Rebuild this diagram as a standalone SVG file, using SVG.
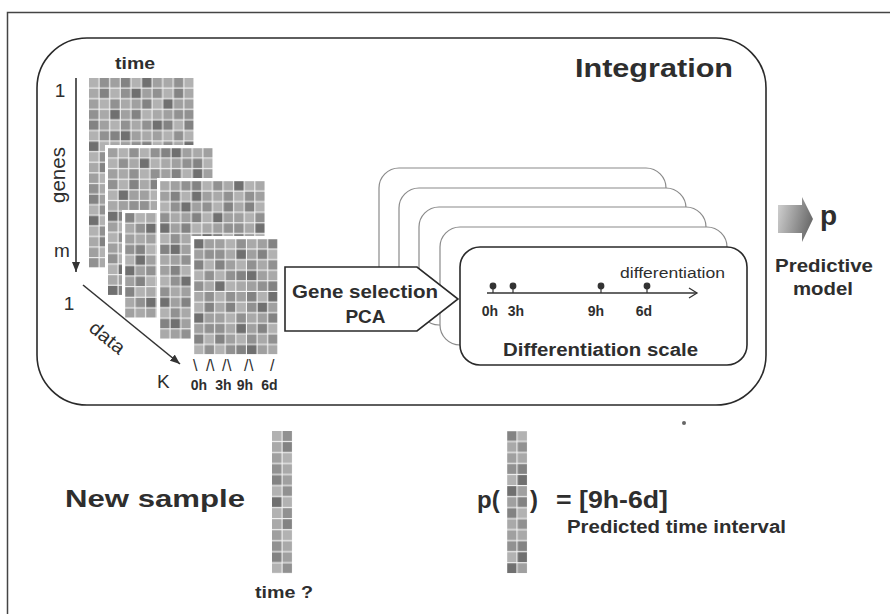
<svg xmlns="http://www.w3.org/2000/svg" width="890" height="614" viewBox="0 0 890 614">
<style>
text{font-family:"Liberation Sans",Arial,sans-serif;fill:#2e2e2e}
.b{font-weight:bold}
.ca{fill:#b2b2b2}.cb{fill:#a0a0a0}.cc{fill:#919191}.cd{fill:#838383}.ce{fill:#707070}.cf{fill:#a9a9a9}
.line{stroke:#333;stroke-width:1.6;fill:none}
.back{fill:#fff;stroke:#8a8a8a;stroke-width:1.2}
.front{fill:#fff;stroke:#2a2a2a;stroke-width:1.6}
.wb{fill:#fff}
</style>
<defs>
<pattern id="hm" patternUnits="userSpaceOnUse" width="95.4" height="74.2">
<rect width="95.4" height="74.2" fill="#f4f4f4"/>
<g>
<rect x="0" y="0" width="9.5" height="9.5" class="ca"/><rect x="10.6" y="0" width="9.5" height="9.5" class="cc"/><rect x="21.2" y="0" width="9.5" height="9.5" class="cb"/><rect x="31.8" y="0" width="9.5" height="9.5" class="cd"/><rect x="42.4" y="0" width="9.5" height="9.5" class="ca"/><rect x="53" y="0" width="9.5" height="9.5" class="ce"/><rect x="63.6" y="0" width="9.5" height="9.5" class="cb"/><rect x="74.2" y="0" width="9.5" height="9.5" class="cf"/><rect x="84.8" y="0" width="9.5" height="9.5" class="cc"/>
<rect x="0" y="10.6" width="9.5" height="9.5" class="cf"/><rect x="10.6" y="10.6" width="9.5" height="9.5" class="cd"/><rect x="21.2" y="10.6" width="9.5" height="9.5" class="ca"/><rect x="31.8" y="10.6" width="9.5" height="9.5" class="cc"/><rect x="42.4" y="10.6" width="9.5" height="9.5" class="ce"/><rect x="53" y="10.6" width="9.5" height="9.5" class="cb"/><rect x="63.6" y="10.6" width="9.5" height="9.5" class="cc"/><rect x="74.2" y="10.6" width="9.5" height="9.5" class="ca"/><rect x="84.8" y="10.6" width="9.5" height="9.5" class="cd"/>
<rect x="0" y="21.2" width="9.5" height="9.5" class="cb"/><rect x="10.6" y="21.2" width="9.5" height="9.5" class="ca"/><rect x="21.2" y="21.2" width="9.5" height="9.5" class="cc"/><rect x="31.8" y="21.2" width="9.5" height="9.5" class="cf"/><rect x="42.4" y="21.2" width="9.5" height="9.5" class="cb"/><rect x="53" y="21.2" width="9.5" height="9.5" class="cd"/><rect x="63.6" y="21.2" width="9.5" height="9.5" class="ca"/><rect x="74.2" y="21.2" width="9.5" height="9.5" class="ce"/><rect x="84.8" y="21.2" width="9.5" height="9.5" class="cb"/>
<rect x="0" y="31.8" width="9.5" height="9.5" class="cc"/><rect x="10.6" y="31.8" width="9.5" height="9.5" class="cf"/><rect x="21.2" y="31.8" width="9.5" height="9.5" class="ce"/><rect x="31.8" y="31.8" width="9.5" height="9.5" class="cb"/><rect x="42.4" y="31.8" width="9.5" height="9.5" class="cd"/><rect x="53" y="31.8" width="9.5" height="9.5" class="ca"/><rect x="63.6" y="31.8" width="9.5" height="9.5" class="cf"/><rect x="74.2" y="31.8" width="9.5" height="9.5" class="cb"/><rect x="84.8" y="31.8" width="9.5" height="9.5" class="cc"/>
<rect x="0" y="42.4" width="9.5" height="9.5" class="cd"/><rect x="10.6" y="42.4" width="9.5" height="9.5" class="cb"/><rect x="21.2" y="42.4" width="9.5" height="9.5" class="ca"/><rect x="31.8" y="42.4" width="9.5" height="9.5" class="cc"/><rect x="42.4" y="42.4" width="9.5" height="9.5" class="cf"/><rect x="53" y="42.4" width="9.5" height="9.5" class="cc"/><rect x="63.6" y="42.4" width="9.5" height="9.5" class="ce"/><rect x="74.2" y="42.4" width="9.5" height="9.5" class="cd"/><rect x="84.8" y="42.4" width="9.5" height="9.5" class="ca"/>
<rect x="0" y="53" width="9.5" height="9.5" class="ca"/><rect x="10.6" y="53" width="9.5" height="9.5" class="cc"/><rect x="21.2" y="53" width="9.5" height="9.5" class="cd"/><rect x="31.8" y="53" width="9.5" height="9.5" class="ce"/><rect x="42.4" y="53" width="9.5" height="9.5" class="cb"/><rect x="53" y="53" width="9.5" height="9.5" class="cf"/><rect x="63.6" y="53" width="9.5" height="9.5" class="cb"/><rect x="74.2" y="53" width="9.5" height="9.5" class="ca"/><rect x="84.8" y="53" width="9.5" height="9.5" class="cc"/>
<rect x="0" y="63.6" width="9.5" height="9.5" class="ce"/><rect x="10.6" y="63.6" width="9.5" height="9.5" class="ca"/><rect x="21.2" y="63.6" width="9.5" height="9.5" class="cf"/><rect x="31.8" y="63.6" width="9.5" height="9.5" class="cb"/><rect x="42.4" y="63.6" width="9.5" height="9.5" class="cc"/><rect x="53" y="63.6" width="9.5" height="9.5" class="cd"/><rect x="63.6" y="63.6" width="9.5" height="9.5" class="ca"/><rect x="74.2" y="63.6" width="9.5" height="9.5" class="cc"/><rect x="84.8" y="63.6" width="9.5" height="9.5" class="cf"/>
</g>
</pattern>
<pattern id="hm2" href="#hm" x="31.8" y="21.2"/>
<pattern id="hm3" href="#hm" x="53" y="42.4"/>
<pattern id="hm4" href="#hm" x="74.2" y="10.6"/>
<pattern id="hm5" href="#hm" x="21.2" y="53"/>
<marker id="ah" markerUnits="userSpaceOnUse" viewBox="0 0 10 8" markerWidth="10" markerHeight="8" refX="10" refY="4" orient="auto">
<path d="M0,0 L10,4 L0,8 Z" fill="#333"/>
</marker>
<linearGradient id="gr" x1="0" y1="0" x2="1" y2="0.3">
<stop offset="0" stop-color="#d4d4d4"/>
<stop offset="1" stop-color="#6e6e6e"/>
</linearGradient>
</defs>

<rect x="7.5" y="12.5" width="900" height="700" fill="#fff" stroke="#444" stroke-width="1.5"/>

<g id="integration">
<rect x="37" y="38" width="729" height="367" rx="50" ry="50" fill="none" stroke="#2a2a2a" stroke-width="1.6"/>
<text x="575" y="77" class="b" font-size="26" textLength="158" lengthAdjust="spacingAndGlyphs">Integration</text>
</g>

<g id="data-matrices">
<g transform="translate(89,78)"><rect x="-3" y="-3" width="110.6" height="195.4" class="wb"/><rect width="104.6" height="189.4" fill="url(#hm)"/></g>
<g transform="translate(108,148)"><rect x="-3" y="-3" width="110.6" height="153" class="wb"/><rect width="104.6" height="147" fill="url(#hm2)"/></g>
<g transform="translate(125,213)"><rect x="-3" y="-3" width="110.6" height="110.6" class="wb"/><rect width="104.6" height="104.6" fill="url(#hm3)"/></g>
<g transform="translate(160,181)"><rect x="-3" y="-3" width="110.6" height="163.6" class="wb"/><rect width="104.6" height="157.6" fill="url(#hm4)"/></g>
<g transform="translate(194,239)"><rect x="-3" y="-3" width="89.4" height="121.2" class="wb"/><rect width="83.4" height="115.2" fill="url(#hm5)"/></g>
</g>

<g id="axes-labels">
<text x="115" y="69" class="b" font-size="17" textLength="40" lengthAdjust="spacingAndGlyphs">time</text>
<text x="60" y="97" font-size="19" text-anchor="middle">1</text>
<text transform="translate(65,175) rotate(-90)" font-size="21" text-anchor="middle" textLength="56" lengthAdjust="spacingAndGlyphs">genes</text>
<text x="62" y="257" font-size="19" text-anchor="middle">m</text>
<text x="69" y="310" font-size="19" text-anchor="middle">1</text>
<text transform="translate(107,338) rotate(39)" y="6" font-size="19" text-anchor="middle" textLength="40" lengthAdjust="spacingAndGlyphs">data</text>
<text x="157" y="388" font-size="19">K</text>
<text x="193 206 210 222 227 244 249 270" y="371" font-size="16">\/\/\/\/</text>
<g font-size="14" text-anchor="middle">
<text x="199" y="390" class="b">0h</text>
<text x="223.5" y="390" class="b">3h</text>
<text x="245" y="390" class="b">9h</text>
<text x="269.5" y="390" class="b">6d</text>
</g>
</g>

<g id="connectors">
<line x1="76" y1="78" x2="76" y2="272" class="line" marker-end="url(#ah)"/>
<line x1="83" y1="285" x2="180" y2="364" class="line" marker-end="url(#ah)"/>
</g>

<g id="scale-stack">
<rect x="379" y="168" width="287" height="118" rx="20" class="back"/>
<rect x="399" y="188" width="287" height="118" rx="20" class="back"/>
<rect x="419" y="207" width="287" height="118" rx="20" class="back"/>
<rect x="440" y="227" width="287" height="118" rx="20" class="back"/>
</g>

<g id="gene-selection">
<polygon points="285,267 417,267 458,299 417,331 285,331" fill="#fff" stroke="#2a2a2a" stroke-width="1.6"/>
<text x="292" y="298" class="b" font-size="19" textLength="146" lengthAdjust="spacingAndGlyphs">Gene selection</text>
<text x="365.5" y="323" class="b" font-size="19" text-anchor="middle">PCA</text>
</g>

<g id="differentiation-scale">
<rect x="460" y="247" width="287" height="118" rx="20" class="front"/>
<line x1="487" y1="293" x2="697" y2="293" stroke="#333" stroke-width="1.3"/>
<polyline points="689,288 697,293 689,298" fill="none" stroke="#333" stroke-width="1.3"/>
<g fill="#333" stroke="#333" stroke-width="1.2">
<circle cx="493" cy="286" r="2.8"/><line x1="493" y1="286" x2="493" y2="293"/>
<circle cx="513" cy="286" r="2.8"/><line x1="513" y1="286" x2="513" y2="293"/>
<circle cx="601" cy="286" r="2.8"/><line x1="601" y1="286" x2="601" y2="293"/>
<circle cx="647" cy="286" r="2.8"/><line x1="647" y1="286" x2="647" y2="293"/>
</g>
<text x="620" y="278" font-size="14" textLength="105" lengthAdjust="spacingAndGlyphs">differentiation</text>
<g font-size="14" text-anchor="middle">
<text x="490" y="316" class="b">0h</text>
<text x="516" y="316" class="b">3h</text>
<text x="596" y="316" class="b">9h</text>
<text x="644" y="316" class="b">6d</text>
</g>
<text x="503" y="356" class="b" font-size="18" textLength="195" lengthAdjust="spacingAndGlyphs">Differentiation scale</text>
</g>

<g id="predictive-model">
<path d="M778,205 H802 V197 L813,219 L802,242 V233 H778 Z" fill="url(#gr)"/>
<text x="820" y="225" class="b" font-size="28">p</text>
<text x="775" y="272" class="b" font-size="18" textLength="98" lengthAdjust="spacingAndGlyphs">Predictive</text>
<text x="793" y="295" class="b" font-size="18" textLength="60" lengthAdjust="spacingAndGlyphs">model</text>
</g>

<circle cx="684" cy="423" r="2" fill="#666"/>

<g id="new-sample">
<text x="65" y="507" class="b" font-size="23" textLength="180" lengthAdjust="spacingAndGlyphs">New sample</text>
<g transform="translate(272,431) scale(1,1.04)"><rect width="20.1" height="136.7" fill="url(#hm)"/></g>
<text x="255" y="598" class="b" font-size="17" textLength="58" lengthAdjust="spacingAndGlyphs">time ?</text>
</g>

<g id="prediction">
<text x="477" y="508" class="b" font-size="24">p(</text>
<g transform="translate(507,431) scale(1,1.04)"><rect width="20.1" height="136.7" fill="url(#hm3)"/></g>
<text x="530" y="508" class="b" font-size="24">)</text>
<text x="556" y="508" class="b" font-size="24" textLength="112" lengthAdjust="spacingAndGlyphs">= [9h-6d]</text>
<text x="567" y="533" class="b" font-size="18" textLength="219" lengthAdjust="spacingAndGlyphs">Predicted time interval</text>
</g>
</svg>
